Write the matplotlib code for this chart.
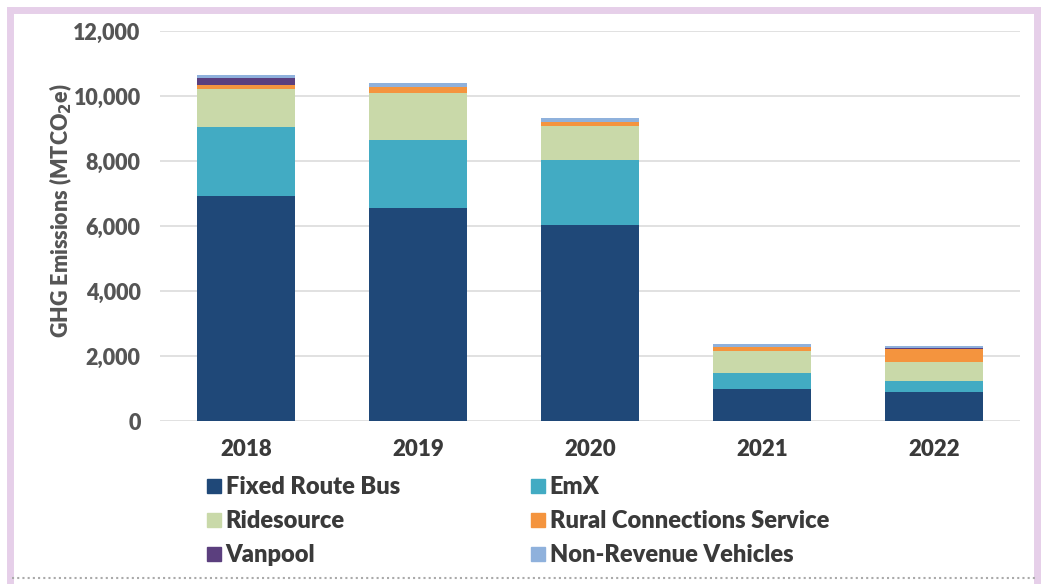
import numpy as np
import matplotlib.pyplot as plt
from matplotlib.lines import Line2D

# data (MTCO2e)
years = ["2018", "2019", "2020", "2021", "2022"]
fixed_route = [6930, 6560, 6030, 985, 900]
emx = [2120, 2090, 2000, 490, 330]
ridesource = [1170, 1450, 1050, 680, 595]
rural = [120, 185, 130, 130, 380]
vanpool = [200, 0, 0, 0, 50]
non_revenue = [100, 120, 110, 80, 40]

names = ["Fixed Route Bus", "EmX", "Ridesource", "Rural Connections Service",
         "Vanpool", "Non-Revenue Vehicles"]
colors = ["#1f4878", "#42abc3", "#c9d9a9", "#f4943e", "#5b3f7e", "#8fb1dc"]
series = [fixed_route, emx, ridesource, rural, vanpool, non_revenue]

plt.rcParams['font.family'] = ['Lato', 'DejaVu Sans']

fig = plt.figure(figsize=(10.46, 5.84), dpi=100)
ax = fig.add_axes([160/1046, 163/584, 860/1046, 390/584])

x = np.arange(len(years))
bottom = np.zeros(len(years))
for vals, col, name in zip(series, colors, names):
    ax.bar(x, vals, 0.57, bottom=bottom, color=col, label=name, zorder=3)
    bottom += np.array(vals)

ax.set_xlim(-0.5, 4.5)
ax.set_ylim(0, 12000)
ax.set_yticks(np.arange(0, 12001, 2000))
ax.set_yticklabels([f"{v:,}" for v in range(0, 12001, 2000)])
ax.set_xticks(x)
ax.set_xticklabels(years)
ax.grid(axis='y', color='#dcdcdc', lw=1.2, zorder=0)
for s in ax.spines.values():
    s.set_visible(False)
ax.tick_params(length=0, pad=14)
ax.tick_params(axis='x', pad=13)
for t in ax.get_yticklabels():
    t.set_fontsize(15.5)
    t.set_fontweight('heavy')
    t.set_color('#555555')
for t in ax.get_xticklabels():
    t.set_fontsize(16)
    t.set_fontweight('heavy')
    t.set_color('#3a3a3a')
ax.set_ylabel("GHG Emissions (MTCO$_\\mathbf{2}$e)", fontsize=15.5, fontweight='heavy',
              color='#555555')
ax.yaxis.set_label_coords(-0.1, 0.54)

# legend filled column by column: left column then right column
order = [0, 2, 4, 1, 3, 5]
handles = [Line2D([], [], marker='s', ls='none', markersize=10, color=colors[i]) for i in order]
labels = [names[i] for i in order]
fig.legend(handles, labels, loc='upper left', bbox_to_anchor=(182/1046, 1 - 455/584),
           ncol=2, frameon=False, prop={'size': 17, 'weight': 'heavy'},
           labelcolor='#3a3a3a', handletextpad=0.05, columnspacing=5.4,
           labelspacing=0.5, handlelength=0.9)

# frame around the figure
pink = '#e6cfe9'
fig.add_artist(Line2D([10/1046, 1037/1046], [1 - 10/584] * 2, color=pink, lw=5))
fig.add_artist(Line2D([10/1046] * 2, [0, 1 - 10/584], color=pink, lw=5))
fig.add_artist(Line2D([1037/1046] * 2, [0, 1 - 10/584], color=pink, lw=5))
fig.add_artist(Line2D([12/1046, 1035/1046], [1 - 578/584] * 2, color='#aaaaaa',
                      lw=1.5, ls=(0, (1, 1.5))))

fig.savefig("out.png", dpi=100, facecolor='white')
